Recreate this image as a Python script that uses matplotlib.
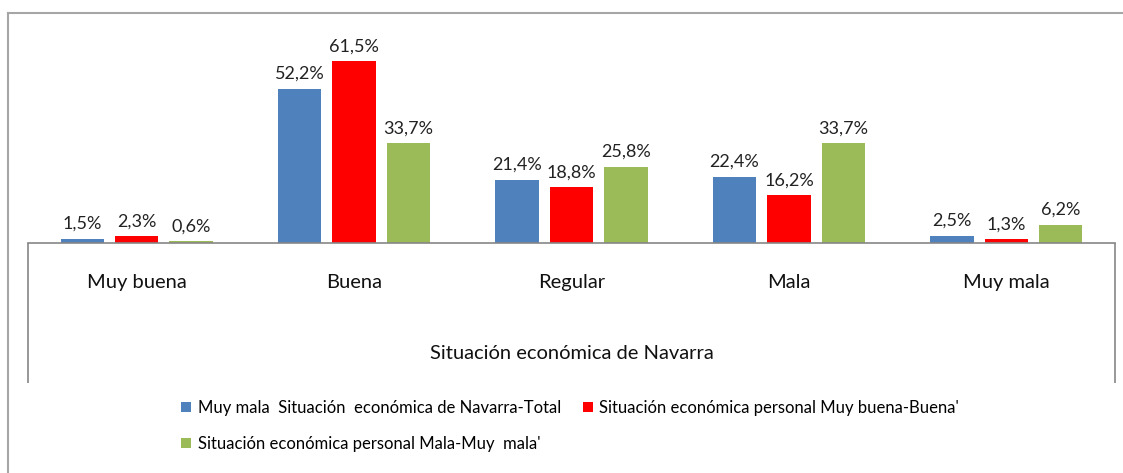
import numpy as np
import matplotlib
matplotlib.use("Agg")
import matplotlib.pyplot as plt
from matplotlib.lines import Line2D
from matplotlib import rcParams

rcParams['font.family'] = ['Lato', 'DejaVu Sans']

categories = ["Muy buena", "Buena", "Regular", "Mala", "Muy mala"]
total_navarra = [1.5, 52.2, 21.4, 22.4, 2.5]
personal_buena = [2.3, 61.5, 18.8, 16.2, 1.3]
personal_mala = [0.6, 33.7, 25.8, 33.7, 6.2]
series_names = ["Muy mala  Situación  económica de Navarra-Total",
                "Situación económica personal Muy buena-Buena'",
                "Situación económica personal Mala-Muy  mala'"]
colors = ["#4F81BD", "#FF0000", "#9BBB59"]
xlabel = "Situación económica de Navarra"

W, H = 1123, 473
fig = plt.figure(figsize=(W / 100, H / 100), dpi=100)
ax = fig.add_axes([28 / W, (H - 243) / H, 1087 / W, 207 / H])

x = np.arange(len(categories))
width = 0.2
offset = 0.25
bars = []
for i, (vals, c) in enumerate(zip([total_navarra, personal_buena, personal_mala], colors)):
    b = ax.bar(x + (i - 1) * offset, vals, width, color=c, label=series_names[i], zorder=2)
    bars.append(b)
    for xi, v in zip(x + (i - 1) * offset, vals):
        ax.annotate(f"{v:.1f}%".replace(".", ","), (xi, v), xytext=(0, 5),
                    textcoords="offset points", ha="center", va="bottom",
                    fontsize=13, color="#222222")

ax.set_xlim(-0.5, len(categories) - 0.5)
ax.set_ylim(0, 70)
ax.set_yticks([])
ax.set_xticks(x)
ax.set_xticklabels(categories, fontsize=14.5, color="#111111")
ax.tick_params(axis="x", length=0, pad=22)
for s in ["top", "left", "right"]:
    ax.spines[s].set_visible(False)
ax.spines["bottom"].set_color("#868686")
ax.spines["bottom"].set_linewidth(1.2)

# side lines under the baseline
ax.vlines([0, 1], -140 / 207, 0, transform=ax.transAxes, clip_on=False,
          color="#868686", linewidth=1.2)

ax.text(0.5, -110 / 207, xlabel, transform=ax.transAxes, ha="center", va="center",
        fontsize=14.5, color="#111111")

# outer chart frame
fig.add_artist(Line2D([8 / W, 8 / W], [0, 1 - 13 / H], color="#a6a6a6", linewidth=1.5))
fig.add_artist(Line2D([8 / W, 1], [1 - 13 / H, 1 - 13 / H], color="#a6a6a6", linewidth=1.5))

handles = [bars[0], bars[2], bars[1]]
labels = [series_names[0], series_names[2], series_names[1]]
fig.legend(handles, labels, loc="upper left", bbox_to_anchor=(181 / W, 1 - 400 / H),
           ncol=2, frameon=False, fontsize=12, handlelength=0.6, handleheight=0.6,
           handletextpad=0.4, borderpad=0, borderaxespad=0, labelspacing=1.2,
           columnspacing=1.3)

fig.savefig("out.png", dpi=100)
